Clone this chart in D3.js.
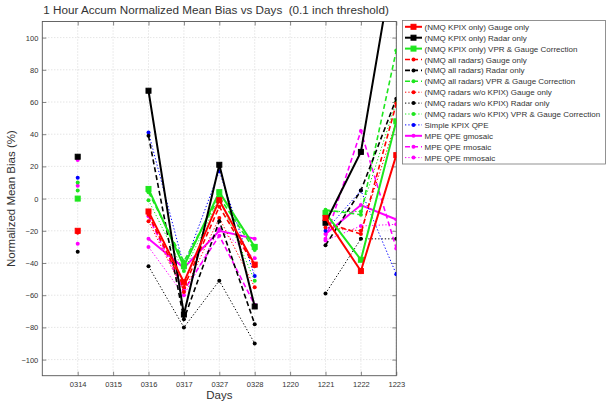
<!DOCTYPE html>
<html><head><meta charset="utf-8">
<script src="https://cdn.jsdelivr.net/npm/d3@7"></script>
<style>body{margin:0;background:#fff;}svg{display:block;font-family:"Liberation Sans",Arial,sans-serif;}</style>
</head><body>
<svg id="c" width="607" height="404"></svg>
<script>
const days = ["0314","0315","0316","0317","0327","0328","1220","1221","1222","1223"];
const yTicks = [-100,-80,-60,-40,-20,0,20,40,60,80,100];

const kpixGauge = [-20, null, -8, -52, -1, -41, null, -12, -45, 27];
const kpixRadar = [26, null, 67, -72, 21, -67, null, -15, 29, 158];
const kpixVpr   = [0, null, 6, -42, 4, -30, null, -9, -38, 48];
const allGauge  = [-21, null, -10, -55, -5, -42, null, -15, -22, 59];
const allRadar  = [26, null, 39, -75, -14, -78, null, -29, 5, 62];
const allVpr    = [5, null, 4, -39, 1, -32, null, -7, -10, 92];
const woGauge   = [-21, null, -14, -58, -12, -55, null, -18, -20, 48];
const woRadar   = [-33, null, -42, -80, -51, -90, null, -59, -25, -25];
const woVpr     = [10, null, -1, -45, 0, -51, null, -8, -8, 60];
const simpleKpix= [13, null, 41, -42, 17, -48, null, -20, 5, -47];
const gmosaic   = [8, null, -25, -43, -20, -25, null, -22, -4, -13];
const rmosaic   = [24, null, -11, -57, -23, -66, null, -25, 42, -31];
const mmosaic   = [-28, null, -30, -60, -19, -37, null, -26, -17, -16];

const RED="#ff0000", BLK="#000000", GRN="#1ee61e", BLU="#0000ff", MAG="#ff00ff";
const SOLID=null, DASH="5,3", DOT="1.3,2";
const series = [
  {name:"(NMQ KPIX only) Gauge only", v:kpixGauge, c:RED, d:SOLID, w:2, m:"sq"},
  {name:"(NMQ KPIX only) Radar only", v:kpixRadar, c:BLK, d:SOLID, w:2, m:"sq"},
  {name:"(NMQ KPIX only) VPR & Gauge Correction", v:kpixVpr, c:GRN, d:SOLID, w:2, m:"sq"},
  {name:"(NMQ all radars) Gauge only", v:allGauge, c:RED, d:DASH, w:1.6, m:"dot"},
  {name:"(NMQ all radars) Radar only", v:allRadar, c:BLK, d:DASH, w:1.6, m:"dot"},
  {name:"(NMQ all radars) VPR & Gauge Correction", v:allVpr, c:GRN, d:DASH, w:1.6, m:"dot"},
  {name:"(NMQ radars w/o KPIX) Gauge only", v:woGauge, c:RED, d:DOT, w:1, m:"dot"},
  {name:"(NMQ radars w/o KPIX) Radar only", v:woRadar, c:BLK, d:DOT, w:1, m:"dot"},
  {name:"(NMQ radars w/o KPIX) VPR & Gauge Correction", v:woVpr, c:GRN, d:DOT, w:1, m:"dot"},
  {name:"Simple KPIX QPE", v:simpleKpix, c:BLU, d:DOT, w:1, m:"dot"},
  {name:"MPE QPE gmosaic", v:gmosaic, c:MAG, d:SOLID, w:2, m:"dot"},
  {name:"MPE QPE rmosaic", v:rmosaic, c:MAG, d:DASH, w:1.6, m:"dot"},
  {name:"MPE QPE mmosaic", v:mmosaic, c:MAG, d:DOT, w:1, m:"dot"}
];

const L=42.3, R=396.3, T=21.5, B=375.7;
const svg = d3.select("#c");
const x = d3.scaleLinear().domain([0, days.length]).range([L, R]);
const y = d3.scaleLinear().domain([-110, 110]).range([B, T]);

svg.append("defs").append("clipPath").attr("id","clip")
  .append("rect").attr("x",L).attr("y",T).attr("width",R-L).attr("height",B-T);

// grid
const grid = svg.append("g");
grid.selectAll("line.gx").data(days).enter().append("line")
  .attr("x1",(d,i)=>x(i+1)).attr("x2",(d,i)=>x(i+1)).attr("y1",T).attr("y2",B)
  .attr("stroke","#c8c8c8").attr("stroke-width",0.7).attr("stroke-dasharray","1,2");
grid.selectAll("line.gy").data(yTicks).enter().append("line")
  .attr("x1",L).attr("x2",R).attr("y1",d=>y(d)).attr("y2",d=>y(d))
  .attr("stroke","#c8c8c8").attr("stroke-width",0.7).attr("stroke-dasharray","1,2");

// axes
const xAxis = d3.axisBottom(x).tickValues(days.map((d,i)=>i+1)).tickFormat((d)=>days[d-1]).tickSizeInner(-4).tickSizeOuter(0).tickPadding(6);
const gx = svg.append("g").attr("transform",`translate(0,${B})`).call(xAxis);
const yAxis = d3.axisLeft(y).tickValues(yTicks).tickSizeInner(-4).tickSizeOuter(0).tickPadding(4);
const gy = svg.append("g").attr("transform",`translate(${L},0)`).call(yAxis);
const gxt = svg.append("g").attr("transform",`translate(0,${T})`).call(d3.axisTop(x).tickValues(days.map((d,i)=>i+1)).tickFormat("").tickSizeInner(-4).tickSizeOuter(0));
const gyr = svg.append("g").attr("transform",`translate(${R},0)`).call(d3.axisRight(y).tickValues(yTicks).tickFormat("").tickSizeInner(-4).tickSizeOuter(0));
[gx,gy,gxt,gyr].forEach(g=>{
  g.select(".domain").remove();
  g.selectAll(".tick line").attr("stroke","#555").attr("stroke-width",0.7);
  g.selectAll("text").attr("font-size","7.5px").attr("fill","#333").attr("font-family","Liberation Sans, Arial, sans-serif");
});
svg.append("rect").attr("x",L).attr("y",T).attr("width",R-L).attr("height",B-T)
  .attr("fill","none").attr("stroke","#555").attr("stroke-width",0.9);

// lines
const plot = svg.append("g").attr("clip-path","url(#clip)");
const line = d3.line().defined(d=>d.v!=null).x(d=>x(d.i+1)).y(d=>y(d.v));
function marker(g, s, cx, cy){
  if(s.m==="sq"){
    g.append("rect").attr("x",cx-2.5).attr("y",cy-2.5).attr("width",5).attr("height",5)
      .attr("fill",s.c).attr("stroke",s.c).attr("stroke-width",1);
  } else {
    g.append("circle").attr("cx",cx).attr("cy",cy).attr("r",2).attr("fill",s.c);
  }
}
series.slice().reverse().forEach(s=>{
  const pts = s.v.map((v,i)=>({i,v}));
  plot.append("path").datum(pts).attr("d",line).attr("fill","none")
    .attr("stroke",s.c).attr("stroke-width",s.w).attr("stroke-dasharray",s.d);
  const mg = plot.append("g");
  pts.filter(p=>p.v!=null).forEach(p=>marker(mg,s,x(p.i+1),y(p.v)));
});

// title and labels
svg.append("text").attr("x",216).attr("y",14).attr("text-anchor","middle")
  .attr("xml:space","preserve").style("white-space","pre")
  .attr("font-size","11.7px").attr("fill","#333").text("1 Hour Accum Normalized Mean Bias vs Days  (0.1 inch threshold)");
svg.append("text").attr("x",(L+R)/2).attr("y",399).attr("text-anchor","middle")
  .attr("font-size","11.5px").attr("fill","#333").text("Days");
svg.append("text").attr("transform",`translate(15,${(T+B)/2}) rotate(-90)`).attr("text-anchor","middle")
  .attr("font-size","11.5px").attr("fill","#333").text("Normalized Mean Bias (%)");

// legend
const lg = svg.append("g");
lg.append("rect").attr("x",402.5).attr("y",20.5).attr("width",203).attr("height",143.5)
  .attr("fill","#fff").attr("stroke","#777").attr("stroke-width",0.8);
series.forEach((s,k)=>{
  const yy = 26.8 + k*10.9;
  lg.append("line").attr("x1",405).attr("x2",422).attr("y1",yy).attr("y2",yy)
    .attr("stroke",s.c).attr("stroke-width",s.w).attr("stroke-dasharray",s.d);
  marker(lg, s, 413.5, yy);
  lg.append("text").attr("x",424.5).attr("y",yy+3).attr("font-size","8px").attr("fill","#333").text(s.name);
});
</script>
</body></html>
